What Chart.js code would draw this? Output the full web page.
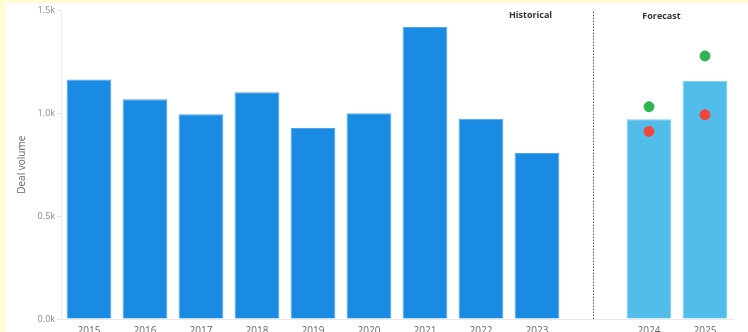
<!DOCTYPE html>
<html><head><meta charset="utf-8">
<script src="https://cdn.jsdelivr.net/npm/chart.js@4.4.1/dist/chart.umd.min.js"></script>
<style>
html,body{margin:0;padding:0;background:#FFFED2;}
#wrap{position:absolute;left:6px;top:3px;width:742px;height:329px;background:#fff;}
#c{position:absolute;left:0;top:0;}
</style></head>
<body>
<div id="wrap"></div>
<canvas id="c" width="748" height="332"></canvas>
<script>
const categories = ['2015','2016','2017','2018','2019','2020','2021','2022','2023','','2024','2025'];
const dealVolume = [1165,1068,995,1102,929,1001,1420,974,807,null,971,1159];
const isForecast = [false,false,false,false,false,false,false,false,false,false,true,true];
const upperEstimate = [null,null,null,null,null,null,null,null,null,null,1032,1279];
const lowerEstimate = [null,null,null,null,null,null,null,null,null,null,912,993];
const yTicks = [0,500,1000,1500];
const dividerIndex = 9;
const sectionLabels = ['Historical','Forecast'];

const FONT = "'Open Sans', 'DejaVu Sans', sans-serif";

const dividerPlugin = {
  id: 'divider',
  afterDatasetsDraw(chart) {
    const {ctx, chartArea, scales} = chart;
    const x = Math.round(scales.x.getPixelForValue(dividerIndex)) + 0.5;
    ctx.save();
    ctx.strokeStyle = '#555';
    ctx.lineWidth = 1;
    ctx.setLineDash([1.5,1.5]);
    ctx.beginPath();
    ctx.moveTo(x, chartArea.top + 1);
    ctx.lineTo(x, chartArea.bottom);
    ctx.stroke();
    ctx.setLineDash([]);
    ctx.fillStyle = '#333';
    ctx.font = 'bold 9px ' + FONT;
    ctx.textAlign = 'center';
    ctx.textBaseline = 'middle';
    ctx.fillText(sectionLabels[0], x - 63, 15);
    ctx.fillText(sectionLabels[1], x + 68, 16);
    ctx.restore();
  }
};

new Chart(document.getElementById('c'), {
  type: 'bar',
  data: {
    labels: categories,
    datasets: [
      {
        type: 'line',
        data: upperEstimate,
        showLine: false,
        pointRadius: 5,
        pointHoverRadius: 5,
        pointBackgroundColor: '#2DB34F',
        pointBorderColor: '#2DB34F',
        order: 0
      },
      {
        type: 'line',
        data: lowerEstimate,
        showLine: false,
        pointRadius: 5,
        pointHoverRadius: 5,
        pointBackgroundColor: '#F2453B',
        pointBorderColor: '#F2453B',
        order: 0
      },
      {
        data: dealVolume,
        backgroundColor: isForecast.map(f => f ? '#52BCEA' : '#198BE3'),
        borderColor: isForecast.map(f => f ? '#7DCDF0' : '#4FA6EA'),
        borderWidth: 1,
        barPercentage: 0.8,
        categoryPercentage: 1.0,
        order: 1
      }
    ]
  },
  options: {
    responsive: false,
    animation: false,
    layout: { padding: { top: 10.5, right: 15, left: 0, bottom: 0 } },
    plugins: { legend: { display: false }, tooltip: { enabled: false } },
    scales: {
      x: {
        grid: { display: false },
        border: { color: '#E8E8E8' },
        afterFit(scale) { scale.height = 13; },
        ticks: { color: '#666', font: { family: FONT, size: 10 }, padding: -2, maxRotation: 0, autoSkip: false }
      },
      y: {
        min: 0, max: 1500,
        afterBuildTicks(scale) { scale.ticks = yTicks.map(v => ({value: v})); },
        afterFit(scale) { scale.width = 61; },
        grid: { drawOnChartArea: false, drawTicks: true, tickLength: 4, color: '#E0E0E0' },
        border: { color: '#ECECEC' },
        ticks: {
          color: '#888',
          font: { family: FONT, size: 9 },
          padding: 2,
          callback: v => (v / 1000).toFixed(1) + 'k'
        },
        title: {
          display: true,
          text: 'Deal volume',
          color: '#666',
          font: { family: FONT, size: 10 },
          padding: { top: 16, bottom: 0 }
        }
      }
    }
  },
  plugins: [dividerPlugin]
});
</script>
</body></html>
